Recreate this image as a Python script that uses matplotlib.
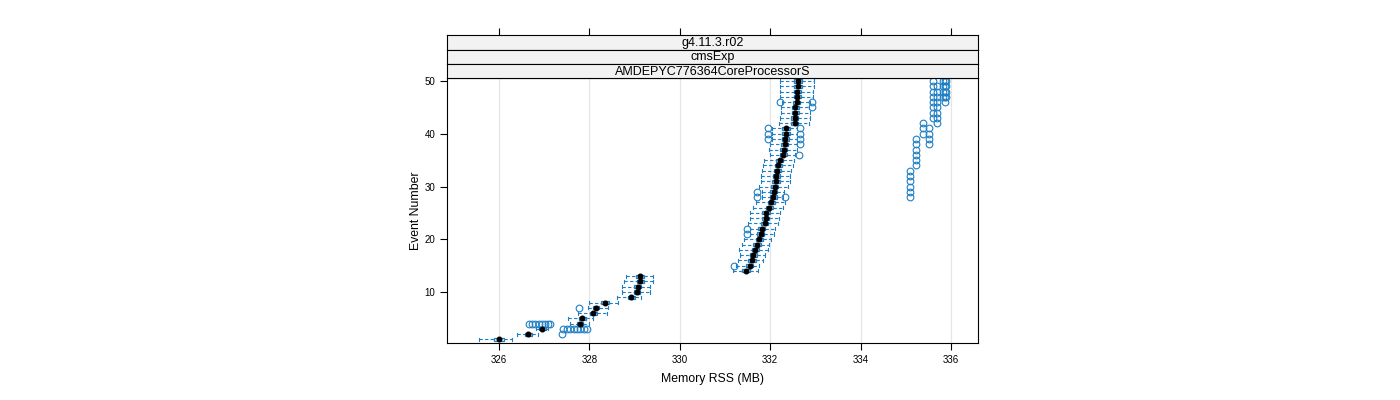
import matplotlib
matplotlib.use('Agg')
import matplotlib.pyplot as plt
from matplotlib.patches import Rectangle

plt.rcParams['font.family'] = ['Liberation Sans', 'DejaVu Sans']

# box summaries per event
events = list(range(1, 51))
medians = [326.00, 326.65, 326.96, 327.79, 327.84, 328.09, 328.15, 328.34, 328.93, 329.06,
           329.07, 329.13, 329.12, 331.46, 331.55, 331.60, 331.63, 331.67, 331.71, 331.76,
           331.79, 331.81, 331.88, 331.90, 331.91, 331.98, 332.03, 332.07, 332.08, 332.10,
           332.13, 332.14, 332.16, 332.18, 332.21, 332.29, 332.30, 332.32, 332.34, 332.35,
           332.35, 332.54, 332.54, 332.56, 332.56, 332.59, 332.60, 332.60, 332.62, 332.62]
q1 = [325.88, 326.58, 326.89, 327.72, 327.76, 328.01, 328.07, 328.25, 328.86, 328.98,
      328.99, 329.05, 329.04, 331.37, 331.47, 331.52, 331.55, 331.59, 331.63, 331.68,
      331.71, 331.73, 331.80, 331.82, 331.83, 331.90, 331.95, 331.99, 332.00, 332.02,
      332.05, 332.06, 332.08, 332.10, 332.13, 332.21, 332.22, 332.24, 332.26, 332.27,
      332.27, 332.46, 332.46, 332.48, 332.48, 332.51, 332.52, 332.52, 332.53, 332.53]
q3 = [326.11, 326.73, 327.03, 327.86, 327.92, 328.16, 328.22, 328.43, 329.00, 329.13,
      329.14, 329.20, 329.20, 331.55, 331.63, 331.68, 331.71, 331.75, 331.79, 331.84,
      331.87, 331.89, 331.96, 331.98, 331.99, 332.06, 332.11, 332.15, 332.16, 332.18,
      332.21, 332.22, 332.24, 332.26, 332.29, 332.37, 332.38, 332.40, 332.42, 332.43,
      332.43, 332.62, 332.62, 332.64, 332.64, 332.67, 332.68, 332.68, 332.71, 332.71]
whisk_lo = [325.56, 326.39, 326.82, 327.58, 327.53, 327.75, 327.97, 327.99, 328.62, 328.72,
            328.73, 328.77, 328.82, 331.17, 331.25, 331.28, 331.33, 331.31, 331.38, 331.42,
            331.55, 331.56, 331.52, 331.55, 331.55, 331.62, 331.68, 331.83, 331.83, 331.76,
            331.79, 331.80, 331.82, 331.84, 331.87, 332.00, 331.97, 332.00, 332.05, 332.05,
            332.05, 332.20, 332.22, 332.24, 332.25, 332.27, 332.22, 332.22, 332.22, 332.22]
whisk_hi = [326.29, 326.86, 327.08, 328.00, 328.08, 328.38, 328.41, 328.63, 329.15, 329.34,
            329.35, 329.41, 329.41, 331.74, 331.76, 331.84, 331.88, 331.96, 331.98, 332.03,
            332.08, 332.10, 332.18, 332.20, 332.22, 332.28, 332.33, 332.28, 332.30, 332.40,
            332.43, 332.45, 332.47, 332.50, 332.52, 332.55, 332.60, 332.60, 332.60, 332.60,
            332.60, 332.85, 332.88, 332.88, 332.85, 332.88, 332.95, 332.95, 332.97, 332.97]

# outliers: (event, value)
out_event = [2, 3, 3, 3, 3, 3, 3, 3, 3, 4, 4, 4, 4, 4, 4, 4, 4, 7,
             15, 21, 22, 28, 28, 29,
             28, 29, 30, 31, 32, 33, 34, 35, 36, 37, 38, 39, 36,
             38, 39, 39, 40, 40, 41, 41, 38, 39, 40, 41, 40, 41, 42,
             42, 43, 44, 45, 46, 47, 48, 49, 43, 44, 45, 46, 47, 48, 49, 50,
             45, 46, 46,
             46, 47, 47, 47, 48, 48, 48, 49, 49, 49, 50, 50, 50]
out_value = [327.39, 327.42, 327.50, 327.58, 327.65, 327.72, 327.80, 327.88, 327.95,
             326.66, 326.72, 326.80, 326.88, 326.95, 327.02, 327.08, 327.13, 327.78,
             331.20, 331.48, 331.48, 331.72, 332.34, 331.72,
             335.10, 335.10, 335.10, 335.10, 335.10, 335.10, 335.23, 335.23, 335.23, 335.23,
             335.23, 335.23, 332.63,
             332.67, 332.67, 331.96, 332.67, 331.96, 332.67, 331.96, 335.52, 335.52, 335.52,
             335.52, 335.38, 335.38, 335.38,
             335.69, 335.69, 335.69, 335.69, 335.69, 335.69, 335.69, 335.69,
             335.60, 335.60, 335.60, 335.60, 335.60, 335.60, 335.60, 335.60,
             332.92, 332.21, 332.93,
             335.88, 335.82, 335.86, 335.90, 335.82, 335.86, 335.90, 335.82, 335.86, 335.90,
             335.82, 335.86, 335.90]

strip_labels = ['g4.11.3.r02', 'cmsExp', 'AMDEPYC776364CoreProcessorS']
x_ticks = [326, 328, 330, 332, 334, 336]
y_ticks = [10, 20, 30, 40, 50]

blue = '#1f7fc4'
W, H = 1400, 400
fig = plt.figure(figsize=(14, 4), dpi=100)

# panel: left 447, right 978, top 78, bottom 343 (pixels)
ax = fig.add_axes([447 / W, 1 - 343 / H, 531 / W, 265 / H])
ax.set_xlim(324.85, 336.6)
ax.set_ylim(0.33, 50.57)

for t in x_ticks:
    ax.axvline(t, color='#e6e6e6', lw=0.9, zorder=0)

bh = 0.6
for e, m, a, b, lo, hi in zip(events, medians, q1, q3, whisk_lo, whisk_hi):
    ax.add_patch(Rectangle((a, e - bh / 2), b - a, bh, fill=False,
                           edgecolor=blue, lw=0.9, zorder=2))
    ax.plot([lo, a], [e, e], color=blue, lw=0.8, ls=(0, (3, 2)), zorder=2)
    ax.plot([b, hi], [e, e], color=blue, lw=0.8, ls=(0, (3, 2)), zorder=2)
    ax.plot([lo, lo], [e - bh / 2, e + bh / 2], color=blue, lw=0.8, zorder=2)
    ax.plot([hi, hi], [e - bh / 2, e + bh / 2], color=blue, lw=0.8, zorder=2)
    ax.plot(m, e, 'o', color='black', ms=3.3, zorder=3)

ax.plot(out_value, out_event, 'o', mfc='none', mec=blue, ms=4.8, mew=0.8, zorder=2)

ax.set_xticks(x_ticks)
ax.set_xticklabels([str(t) for t in x_ticks])
ax.set_yticks(y_ticks)
ax.tick_params(axis='both', labelsize=7, direction='out', length=5, width=0.8,
               colors='black')
for s in ax.spines.values():
    s.set_linewidth(0.8)
ax.set_xlabel('Memory RSS (MB)', fontsize=8.8, labelpad=6)
ax.set_ylabel('Event Number', fontsize=8.8, labelpad=2)

# strips on top of panel (three stacked, top one carries the top ticks)
strip_edges = [35, 49.5, 64, 78]
for i, lab in enumerate(strip_labels):
    top, bot = strip_edges[i], strip_edges[i + 1]
    sax = fig.add_axes([447 / W, 1 - bot / H, 531 / W, (bot - top) / H])
    sax.set_facecolor('#f2f2f2')
    sax.set_xlim(ax.get_xlim())
    sax.set_yticks([])
    if i == 0:
        sax.set_xticks(x_ticks)
        sax.tick_params(axis='x', bottom=False, labelbottom=False, top=True,
                        labeltop=False, direction='out', length=5, width=0.8)
    else:
        sax.set_xticks([])
    for s in sax.spines.values():
        s.set_linewidth(0.8)
    sax.text(0.5, 0.45, lab, transform=sax.transAxes, ha='center', va='center',
             fontsize=9)

fig.savefig('out.png', dpi=100)
